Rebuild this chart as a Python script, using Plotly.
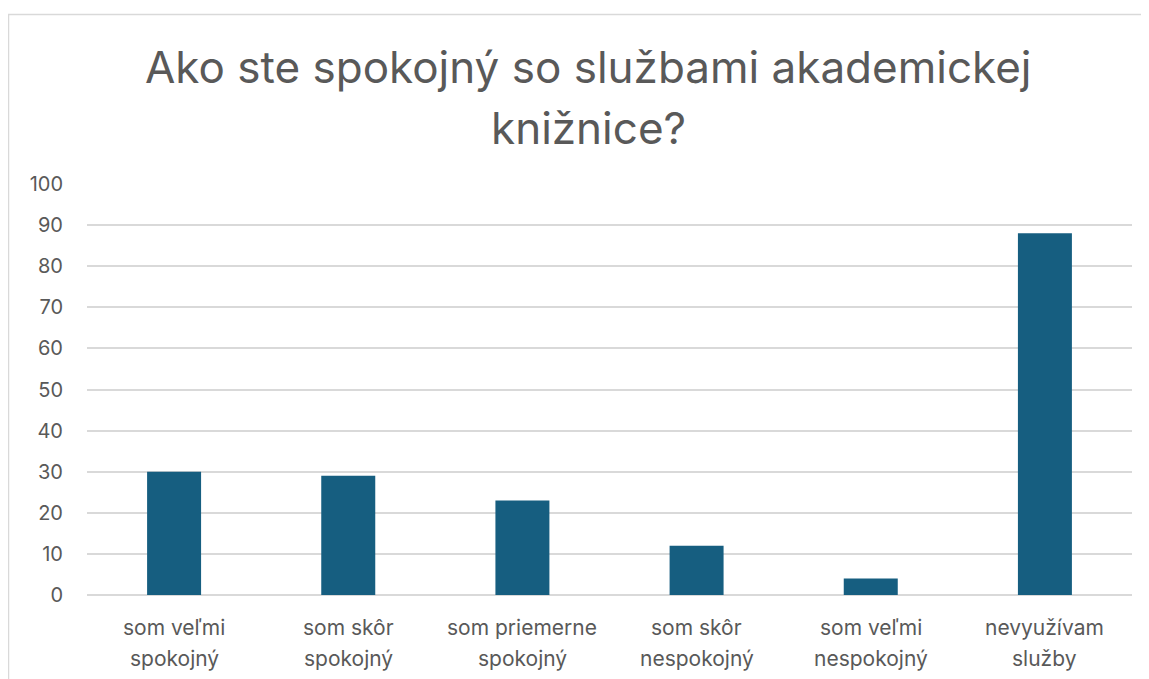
import plotly.graph_objects as go

categories = ["som veľmi spokojný", "som skôr spokojný", "som priemerne spokojný",
              "som skôr nespokojný", "som veľmi nespokojný", "nevyužívam služby"]
label_line1 = ["som veľmi", "som skôr", "som priemerne", "som skôr", "som veľmi", "nevyužívam"]
label_line2 = ["spokojný", "spokojný", "spokojný", "nespokojný", "nespokojný", "služby"]
values = [30, 29, 23, 12, 4, 88]
y_ticks = [0, 10, 20, 30, 40, 50, 60, 70, 80, 90, 100]
title_lines = ["Ako ste spokojný so službami akademickej", "knižnice?"]

W, H = 1141, 671
L, R, T, B = 79, 17, 176, 84
pw, ph = W - L - R, H - T - B

def px(fx):
    return (fx - L) / pw

def py(fy):
    return (H - B - fy) / ph

FONT = "Inter, Open Sans, sans-serif"
GRAY = "#595959"

fig = go.Figure(go.Bar(x=categories, y=values, marker=dict(color="#165E80", line=dict(width=0)),
                       width=0.31))

annotations = [
    dict(text=title_lines[0], xref="paper", yref="paper", x=px(580), y=py(59), showarrow=False,
         xanchor="center", yanchor="middle", font=dict(size=44, color=GRAY, family=FONT)),
    dict(text=title_lines[1], xref="paper", yref="paper", x=px(580), y=py(120), showarrow=False,
         xanchor="center", yanchor="middle", font=dict(size=44, color=GRAY, family=FONT)),
]
for cat, l1, l2 in zip(categories, label_line1, label_line2):
    annotations.append(dict(text=l1, x=cat, xref="x", yref="paper", y=py(619), showarrow=False,
                            xanchor="center", yanchor="middle", font=dict(size=21, color=GRAY, family=FONT)))
    annotations.append(dict(text=l2, x=cat, xref="x", yref="paper", y=py(650), showarrow=False,
                            xanchor="center", yanchor="middle", font=dict(size=21, color=GRAY, family=FONT)))

fig.update_layout(
    width=W, height=H,
    margin=dict(l=L, r=R, t=T, b=B),
    paper_bgcolor="white", plot_bgcolor="white",
    showlegend=False,
    font=dict(family=FONT, color=GRAY, size=20),
    xaxis=dict(showgrid=False, showline=False, ticks="", showticklabels=False),
    yaxis=dict(range=[0, 100], tickvals=y_ticks, showgrid=True, gridcolor="#D9D9D9", gridwidth=1.5,
               zeroline=True, zerolinecolor="#D9D9D9", zerolinewidth=1.5,
               ticks="", ticklabelstandoff=23, tickfont=dict(size=20, color=GRAY)),
    shapes=[dict(type="rect", xref="paper", yref="paper",
                 x0=px(0.5), x1=px(1200), y0=py(700), y1=py(6.5),
                 line=dict(color="#D9D9D9", width=1.5), fillcolor="rgba(0,0,0,0)", layer="below")],
    annotations=annotations,
)

fig.write_html("out.html")
